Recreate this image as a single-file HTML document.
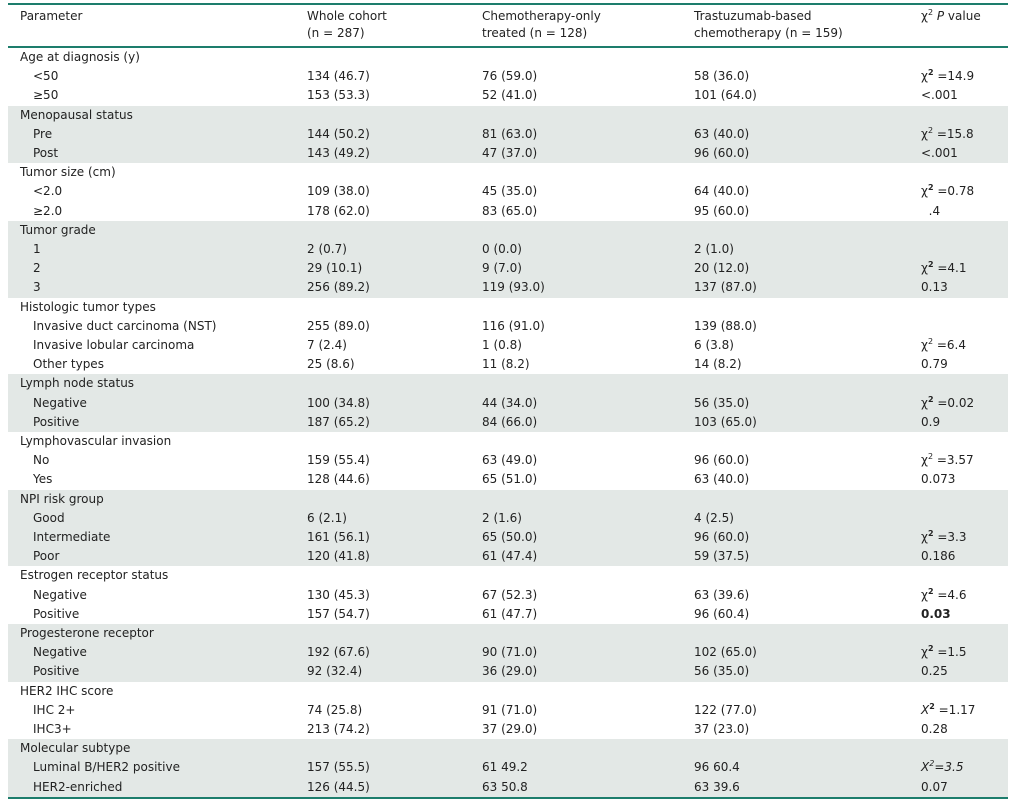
<!DOCTYPE html>
<html><head><meta charset="utf-8"><style>
body{margin:0;width:1016px;height:805px;background:#fff;position:relative;font-family:"DejaVu Sans","Liberation Sans",sans-serif;font-size:12px;color:#222;overflow:hidden}
.line{position:absolute;left:8px;width:1000px;background:#1d7d6c}
.r{position:absolute;left:8px;width:1000px;height:19.2px;line-height:19.2px;white-space:nowrap}
.s{background:#e3e8e6}
.r span{position:absolute;top:0}
.a{left:12px}.ai{left:25px}.b{left:299px}.c{left:474px}.d{left:686px}.e{left:913px}
.h{position:absolute;white-space:nowrap;line-height:17px}
sup{font-size:8px;line-height:0}
</style></head><body>
<div class="line" style="top:3px;height:2px"></div>
<div class="h" style="left:20px;top:8px">Parameter</div>
<div class="h" style="left:307px;top:8px">Whole cohort<br>(n = 287)</div>
<div class="h" style="left:482px;top:8px">Chemotherapy-only<br>treated (n = 128)</div>
<div class="h" style="left:694px;top:8px">Trastuzumab-based<br>chemotherapy (n = 159)</div>
<div class="h" style="left:921px;top:8px">χ<sup>2</sup> <i>P</i> value</div>
<div class="line" style="top:46px;height:2px"></div>

<div class="r" style="top:48px"><span class="a">Age at diagnosis (y)</span></div>
<div class="r" style="top:67.2px"><span class="ai">&lt;50</span><span class="b">134 (46.7)</span><span class="c">76 (59.0)</span><span class="d">58 (36.0)</span><span class="e">χ<sup><b>2</b></sup> =14.9</span></div>
<div class="r" style="top:86.4px"><span class="ai">≥50</span><span class="b">153 (53.3)</span><span class="c">52 (41.0)</span><span class="d">101 (64.0)</span><span class="e">&lt;.001</span></div>

<div class="r s" style="top:105.6px"><span class="a">Menopausal status</span></div>
<div class="r s" style="top:124.8px"><span class="ai">Pre</span><span class="b">144 (50.2)</span><span class="c">81 (63.0)</span><span class="d">63 (40.0)</span><span class="e">χ<sup>2</sup> =15.8</span></div>
<div class="r s" style="top:144px"><span class="ai">Post</span><span class="b">143 (49.2)</span><span class="c">47 (37.0)</span><span class="d">96 (60.0)</span><span class="e">&lt;.001</span></div>

<div class="r" style="top:163.2px"><span class="a">Tumor size (cm)</span></div>
<div class="r" style="top:182.4px"><span class="ai">&lt;2.0</span><span class="b">109 (38.0)</span><span class="c">45 (35.0)</span><span class="d">64 (40.0)</span><span class="e">χ<sup><b>2</b></sup> =0.78</span></div>
<div class="r" style="top:201.6px"><span class="ai">≥2.0</span><span class="b">178 (62.0)</span><span class="c">83 (65.0)</span><span class="d">95 (60.0)</span><span class="e">&nbsp;&nbsp;.4</span></div>

<div class="r s" style="top:220.8px"><span class="a">Tumor grade</span></div>
<div class="r s" style="top:240px"><span class="ai">1</span><span class="b">2 (0.7)</span><span class="c">0 (0.0)</span><span class="d">2 (1.0)</span></div>
<div class="r s" style="top:259.2px"><span class="ai">2</span><span class="b">29 (10.1)</span><span class="c">9 (7.0)</span><span class="d">20 (12.0)</span><span class="e">χ<sup><b>2</b></sup> =4.1</span></div>
<div class="r s" style="top:278.4px"><span class="ai">3</span><span class="b">256 (89.2)</span><span class="c">119 (93.0)</span><span class="d">137 (87.0)</span><span class="e">0.13</span></div>

<div class="r" style="top:297.6px"><span class="a">Histologic tumor types</span></div>
<div class="r" style="top:316.8px"><span class="ai">Invasive duct carcinoma (NST)</span><span class="b">255 (89.0)</span><span class="c">116 (91.0)</span><span class="d">139 (88.0)</span></div>
<div class="r" style="top:336px"><span class="ai">Invasive lobular carcinoma</span><span class="b">7 (2.4)</span><span class="c">1 (0.8)</span><span class="d">6 (3.8)</span><span class="e">χ<sup>2</sup> =6.4</span></div>
<div class="r" style="top:355.2px"><span class="ai">Other types</span><span class="b">25 (8.6)</span><span class="c">11 (8.2)</span><span class="d">14 (8.2)</span><span class="e">0.79</span></div>

<div class="r s" style="top:374.4px"><span class="a">Lymph node status</span></div>
<div class="r s" style="top:393.6px"><span class="ai">Negative</span><span class="b">100 (34.8)</span><span class="c">44 (34.0)</span><span class="d">56 (35.0)</span><span class="e">χ<sup><b>2</b></sup> =0.02</span></div>
<div class="r s" style="top:412.8px"><span class="ai">Positive</span><span class="b">187 (65.2)</span><span class="c">84 (66.0)</span><span class="d">103 (65.0)</span><span class="e">0.9</span></div>

<div class="r" style="top:432px"><span class="a">Lymphovascular invasion</span></div>
<div class="r" style="top:451.2px"><span class="ai">No</span><span class="b">159 (55.4)</span><span class="c">63 (49.0)</span><span class="d">96 (60.0)</span><span class="e">χ<sup>2</sup> =3.57</span></div>
<div class="r" style="top:470.4px"><span class="ai">Yes</span><span class="b">128 (44.6)</span><span class="c">65 (51.0)</span><span class="d">63 (40.0)</span><span class="e">0.073</span></div>

<div class="r s" style="top:489.6px"><span class="a">NPI risk group</span></div>
<div class="r s" style="top:508.8px"><span class="ai">Good</span><span class="b">6 (2.1)</span><span class="c">2 (1.6)</span><span class="d">4 (2.5)</span></div>
<div class="r s" style="top:528px"><span class="ai">Intermediate</span><span class="b">161 (56.1)</span><span class="c">65 (50.0)</span><span class="d">96 (60.0)</span><span class="e">χ<sup><b>2</b></sup> =3.3</span></div>
<div class="r s" style="top:547.2px"><span class="ai">Poor</span><span class="b">120 (41.8)</span><span class="c">61 (47.4)</span><span class="d">59 (37.5)</span><span class="e">0.186</span></div>

<div class="r" style="top:566.4px"><span class="a">Estrogen receptor status</span></div>
<div class="r" style="top:585.6px"><span class="ai">Negative</span><span class="b">130 (45.3)</span><span class="c">67 (52.3)</span><span class="d">63 (39.6)</span><span class="e">χ<sup><b>2</b></sup> =4.6</span></div>
<div class="r" style="top:604.8px"><span class="ai">Positive</span><span class="b">157 (54.7)</span><span class="c">61 (47.7)</span><span class="d">96 (60.4)</span><span class="e"><b>0.03</b></span></div>

<div class="r s" style="top:624px"><span class="a">Progesterone receptor</span></div>
<div class="r s" style="top:643.2px"><span class="ai">Negative</span><span class="b">192 (67.6)</span><span class="c">90 (71.0)</span><span class="d">102 (65.0)</span><span class="e">χ<sup><b>2</b></sup> =1.5</span></div>
<div class="r s" style="top:662.4px"><span class="ai">Positive</span><span class="b">92 (32.4)</span><span class="c">36 (29.0)</span><span class="d">56 (35.0)</span><span class="e">0.25</span></div>

<div class="r" style="top:681.6px"><span class="a">HER2 IHC score</span></div>
<div class="r" style="top:700.8px"><span class="ai">IHC 2+</span><span class="b">74 (25.8)</span><span class="c">91 (71.0)</span><span class="d">122 (77.0)</span><span class="e"><i>X</i><sup><b>2</b></sup> =1.17</span></div>
<div class="r" style="top:720px"><span class="ai">IHC3+</span><span class="b">213 (74.2)</span><span class="c">37 (29.0)</span><span class="d">37 (23.0)</span><span class="e">0.28</span></div>

<div class="r s" style="top:739.2px"><span class="a">Molecular subtype</span></div>
<div class="r s" style="top:758.4px"><span class="ai">Luminal B/HER2 positive</span><span class="b">157 (55.5)</span><span class="c">61 49.2</span><span class="d">96 60.4</span><span class="e"><i>X<sup>2</sup>=3.5</i></span></div>
<div class="r s" style="top:777.6px"><span class="ai">HER2-enriched</span><span class="b">126 (44.5)</span><span class="c">63 50.8</span><span class="d">63 39.6</span><span class="e">0.07</span></div>
<div class="line" style="top:796.8px;height:2px"></div>
</body></html>
